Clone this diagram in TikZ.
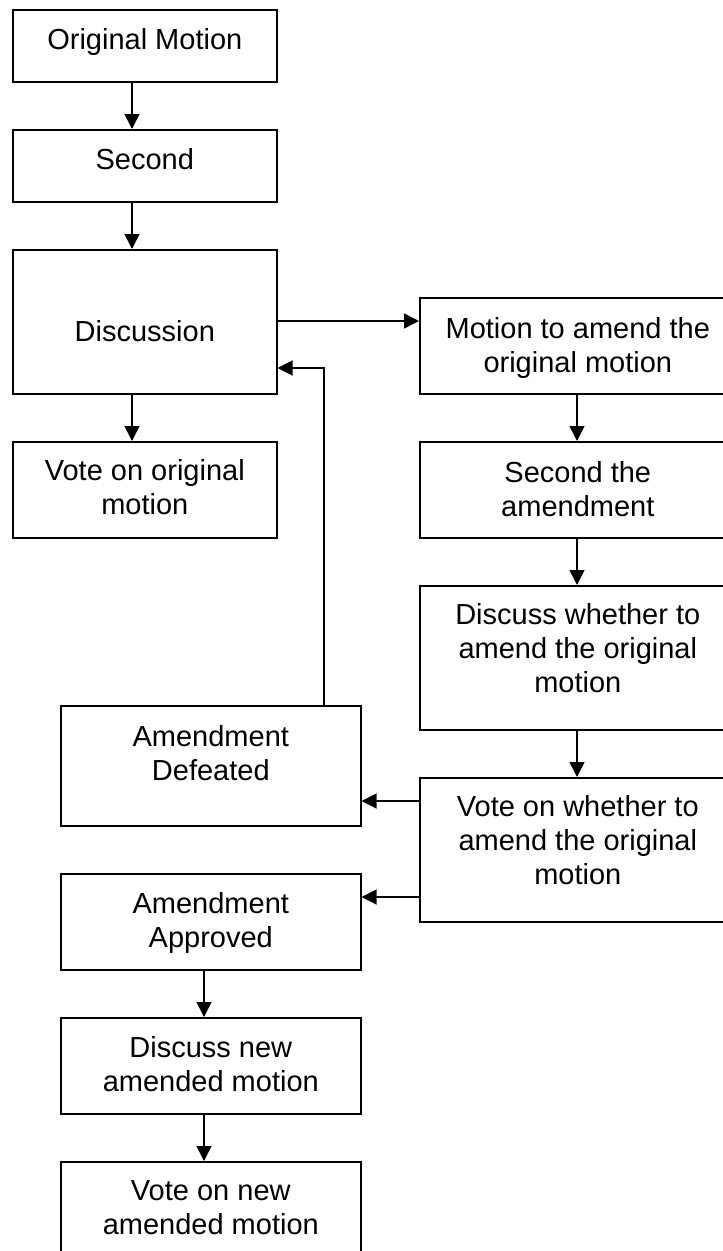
\documentclass[tikz,border=0pt]{standalone}
\usepackage{fontspec}
\setmainfont{Liberation Sans}
\usetikzlibrary{arrows.meta}
\begin{document}
\begin{tikzpicture}[x=1pt,y=-1pt,
  box/.style={draw,line width=1.6pt,rectangle,inner sep=0pt,anchor=north west},
  txt/.style={anchor=north,inner sep=0pt,align=center,font=\fontsize{29}{34}\selectfont},
  arr/.style={line width=1.5pt,-{Triangle[length=15pt,width=15pt]}}]
\useasboundingbox (0,0) rectangle (723,1251);
\clip (0,0) rectangle (723,1251);
% left column
\node[box,minimum width=264pt,minimum height=72pt] (b1) at (12,9) {};
\node[txt] (t1) at ([yshift=-19pt]b1.north) {Original Motion};
\node[box,minimum width=264pt,minimum height=72pt] (b2) at (12,129) {};
\node[txt] (t2) at ([yshift=-19pt]b2.north) {Second};
\node[box,minimum width=264pt,minimum height=144pt] (b3) at (12,249) {};
\node[txt] (t3) at ([yshift=-71pt]b3.north) {Discussion};
\node[box,minimum width=264pt,minimum height=96pt] (b4) at (12,441) {};
\node[txt] (t4) at ([yshift=-18pt]b4.north) {Vote on original\\motion};
% right column
\node[box,minimum width=316pt,minimum height=96pt] (r1) at (419,297) {};
\node[txt] (s1) at ([yshift=-20pt]r1.north) {Motion to amend the\\original motion};
\node[box,minimum width=316pt,minimum height=96pt] (r2) at (419,441) {};
\node[txt] (s2) at ([yshift=-20pt]r2.north) {Second the\\amendment};
\node[box,minimum width=316pt,minimum height=144pt] (r3) at (419,585) {};
\node[txt] (s3) at ([yshift=-18pt]r3.north) {Discuss whether to\\amend the original\\motion};
\node[box,minimum width=316pt,minimum height=144pt] (r4) at (419,777) {};
\node[txt] (s4) at ([yshift=-18pt]r4.north) {Vote on whether to\\amend the original\\motion};
% lower left column
\node[box,minimum width=300pt,minimum height=120pt] (d1) at (60,705) {};
\node[txt] (u1) at ([yshift=-20pt]d1.north) {Amendment\\Defeated};
\node[box,minimum width=300pt,minimum height=96pt] (d2) at (60,873) {};
\node[txt] (u2) at ([yshift=-19pt]d2.north) {Amendment\\Approved};
\node[box,minimum width=300pt,minimum height=96pt] (d3) at (60,1017) {};
\node[txt] (u3) at ([yshift=-19pt]d3.north) {Discuss new\\amended motion};
\node[box,minimum width=300pt,minimum height=96pt] (d4) at (60,1161) {};
\node[txt] (u4) at ([yshift=-19pt]d4.north) {Vote on new\\amended motion};
% connectors
\draw[arr] (b1.south -| 132,0) -- (b2.north -| 132,0);
\draw[arr] (b2.south -| 132,0) -- (b3.north -| 132,0);
\draw[arr] (b3.south -| 132,0) -- (b4.north -| 132,0);
\draw[arr] (b3.east |- 0,321) -- (r1.west |- 0,321);
\draw[arr] (r1.south -| 577,0) -- (r2.north -| 577,0);
\draw[arr] (r2.south -| 577,0) -- (r3.north -| 577,0);
\draw[arr] (r3.south -| 577,0) -- (r4.north -| 577,0);
\draw[arr] (r4.west |- 0,801) -- (d1.east |- 0,801);
\draw[arr] (r4.west |- 0,897) -- (d2.east |- 0,897);
\draw[arr] (d1.north -| 324,0) -- (324,368) -- (b3.east |- 0,368);
\draw[arr] (d2.south -| 204,0) -- (d3.north -| 204,0);
\draw[arr] (d3.south -| 204,0) -- (d4.north -| 204,0);
\end{tikzpicture}
\end{document}
